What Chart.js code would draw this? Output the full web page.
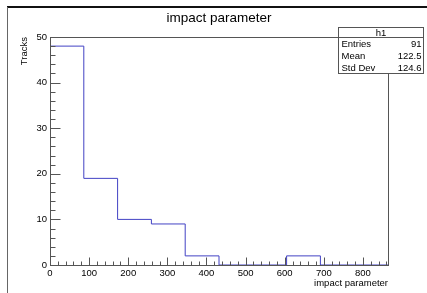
<!DOCTYPE html>
<html>
<head>
<meta charset="utf-8">
<script src="https://cdn.jsdelivr.net/npm/chart.js@4/dist/chart.umd.min.js"></script>
<style>
  html, body { margin: 0; padding: 0; background: #ffffff; }
  #wrap { width: 427px; height: 293px; }
</style>
</head>
<body>
<div id="wrap"><canvas id="c" width="427" height="293"></canvas></div>
<script>
// ---- data ----
const binEdges = [0, 86.4, 172.8, 259.2, 345.6, 432, 518.4, 604.8, 691.2, 777.6, 864];
const binCounts = [48, 19, 10, 9, 2, 0, 0, 2, 0, 0];
const xTickValues = [0, 100, 200, 300, 400, 500, 600, 700, 800];
const yTickValues = [0, 10, 20, 30, 40, 50];
const statLabels = ['Entries', 'Mean', 'Std Dev'];
const statValues = ['91', '122.5', '124.6'];
const histName = 'h1';
const chartTitle = 'impact parameter';
const xTitle = 'impact parameter';
const yTitle = 'Tracks';

const FONT = '"Liberation Sans", Arial, Helvetica, sans-serif';
const AXIS_COLOR = '#555555';

// step outline points built from the bins
const outline = [{x: binEdges[0], y: 0}];
for (let i = 0; i < binCounts.length; i++) outline.push({x: binEdges[i], y: binCounts[i]});
outline.push({x: binEdges[binEdges.length - 1], y: 0});

const rootDecor = {
  id: 'rootDecor',
  afterDraw(chart) {
    const ctx = chart.ctx;
    const xs = chart.scales.x, ys = chart.scales.y;
    const a = chart.chartArea;
    ctx.save();
    // pad border
    ctx.strokeStyle = '#111';
    ctx.lineWidth = 2;
    ctx.beginPath(); ctx.moveTo(7, 7); ctx.lineTo(427, 7); ctx.stroke();
    ctx.strokeStyle = '#666';
    ctx.lineWidth = 1;
    ctx.beginPath(); ctx.moveTo(7.5, 7); ctx.lineTo(7.5, 293); ctx.stroke();

    // frame
    ctx.strokeStyle = AXIS_COLOR;
    ctx.lineWidth = 1;
    const L = Math.round(a.left) + 0.5, R = Math.round(a.right) + 0.5;
    const T = Math.round(a.top) + 0.5, B = Math.round(a.bottom) + 0.5;
    ctx.strokeRect(L, T, R - L, B - T);

    // inward ticks on x axis (major 100, minor 20)
    ctx.beginPath();
    for (let v = 0; v <= xs.max + 1e-6; v += 20) {
      const px = Math.round(xs.getPixelForValue(v)) + 0.5;
      const major = Math.abs(v % 100) < 1e-6;
      const len = major ? 8 : 4;
      ctx.moveTo(px, B); ctx.lineTo(px, B - len);
    }
    // inward ticks on y axis (major 10, minor 2)
    for (let v = 0; v <= ys.max + 1e-6; v += 2) {
      const py = Math.round(ys.getPixelForValue(v)) + 0.5;
      const major = Math.abs(v % 10) < 1e-6;
      const len = major ? 10 : 5;
      ctx.moveTo(L, py); ctx.lineTo(L + len, py);
    }
    ctx.stroke();

    // stats box
    const bx = 338.5, by = 27.5, bw = 85, bh = 46;
    const headH = 10;
    ctx.fillStyle = '#ffffff';
    ctx.fillRect(bx, by, bw, bh);
    ctx.strokeStyle = AXIS_COLOR;
    ctx.strokeRect(bx, by, bw, bh);
    ctx.beginPath(); ctx.moveTo(bx, by + headH); ctx.lineTo(bx + bw, by + headH); ctx.stroke();
    ctx.fillStyle = '#000';
    ctx.font = '9.5px ' + FONT;
    ctx.textBaseline = 'middle';
    ctx.textAlign = 'center';
    ctx.fillText(histName, bx + bw / 2, by + headH / 2 + 0.5);
    const rowH = (bh - headH) / statLabels.length;
    for (let i = 0; i < statLabels.length; i++) {
      const cy = by + headH + rowH * (i + 0.5) + 0.5;
      ctx.textAlign = 'left';
      ctx.fillText(statLabels[i], bx + 3, cy);
      ctx.textAlign = 'right';
      ctx.fillText(statValues[i], bx + bw - 2, cy);
    }
    ctx.restore();
  }
};

new Chart(document.getElementById('c'), {
  type: 'line',
  data: {
    datasets: [{
      label: histName,
      data: outline,
      stepped: 'before',
      borderColor: '#4242c4',
      borderWidth: 1,
      pointRadius: 0,
      fill: false,
      tension: 0
    }]
  },
  options: {
    responsive: false,
    animation: false,
    devicePixelRatio: 1,
    layout: { padding: { top: 0, left: 0, right: 39, bottom: 0 } },
    plugins: {
      legend: { display: false },
      tooltip: { enabled: false },
      title: {
        display: true,
        text: chartTitle,
        fullSize: false,
        color: '#000',
        font: { family: FONT, size: 13.5, weight: 'normal', lineHeight: 1.2 },
        padding: { top: 10, bottom: 10.8 }
      }
    },
    scales: {
      x: {
        type: 'linear',
        min: binEdges[0],
        max: binEdges[binEdges.length - 1],
        afterFit(s) { s.height = 28; },
        afterBuildTicks(s) { s.ticks = xTickValues.map(v => ({value: v})); },
        grid: { display: false, drawTicks: false },
        border: { display: false },
        ticks: {
          color: '#000',
          padding: 3,
          maxRotation: 0,
          autoSkip: false,
          font: { family: FONT, size: 9.5 },
          callback: v => String(v)
        },
        title: {
          display: true,
          text: xTitle,
          align: 'end',
          color: '#000',
          font: { family: FONT, size: 9.5, lineHeight: 1.2 },
          padding: { top: 0, bottom: 4 }
        }
      },
      y: {
        type: 'linear',
        min: 0,
        max: 50,
        afterFit(s) { s.width = 50; },
        afterBuildTicks(s) { s.ticks = yTickValues.map(v => ({value: v})); },
        grid: { display: false, drawTicks: false },
        border: { display: false },
        ticks: {
          color: '#000',
          padding: 3,
          autoSkip: false,
          font: { family: FONT, size: 9.5 },
          callback: v => String(v)
        },
        title: {
          display: true,
          text: yTitle,
          align: 'end',
          color: '#000',
          font: { family: FONT, size: 9.5, lineHeight: 1.2 },
          padding: { top: 18.5, bottom: 0 }
        }
      }
    }
  },
  plugins: [rootDecor]
});
</script>
</body>
</html>
